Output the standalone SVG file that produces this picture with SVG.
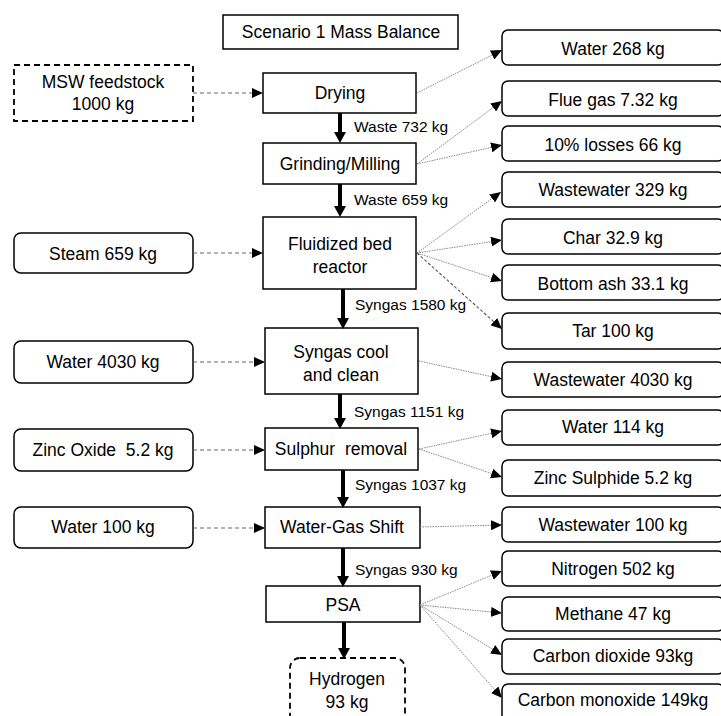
<svg xmlns="http://www.w3.org/2000/svg" width="721" height="716" viewBox="0 0 721 716">
<defs>
<style>
text{font-family:"Liberation Sans",Arial,sans-serif;fill:#000;}
.t{font-size:17.5px;text-anchor:middle;white-space:pre;}
.l{font-size:15.5px;}
.box{fill:#fff;stroke:#000;stroke-width:1.5;}
.rbox{fill:#fff;stroke:#000;stroke-width:1.5;}
.dbox{fill:#fff;stroke:#000;stroke-width:1.8;stroke-dasharray:6,4;}
.thick{stroke:#000;stroke-width:4;fill:none;}
.dash{stroke:#666;stroke-width:1.2;stroke-dasharray:4,3;fill:none;}
.dot{stroke:#888;stroke-width:1;stroke-dasharray:1.5,1;fill:none;}
.tdash{stroke:#555;stroke-width:1.1;stroke-dasharray:3,2;fill:none;}
</style>
<marker id="big" markerUnits="userSpaceOnUse" markerWidth="12" markerHeight="12" refX="0" refY="6" orient="auto">
<path d="M0,0 L11,6 L0,12 z" fill="#000"/>
</marker>
<marker id="sm" markerUnits="userSpaceOnUse" markerWidth="11" markerHeight="10" refX="11" refY="5" orient="auto">
<path d="M0,0 L11,5 L0,10 z" fill="#000"/>
</marker>
</defs>

<g id="title"><rect class="box" x="223" y="15" width="235" height="34"/><text class="t" x="341" y="38">Scenario 1 Mass Balance</text></g>

<g id="msw"><rect class="dbox" x="14" y="65" width="179" height="56"/><text class="t" x="103" y="88">MSW feedstock</text><text class="t" x="103" y="110">1000 kg</text></g>
<g id="steam"><rect class="rbox" x="14" y="233" width="179" height="40" rx="7"/><text class="t" x="103" y="260">Steam 659 kg</text></g>
<g id="water4030"><rect class="rbox" x="14" y="341" width="179" height="42" rx="7"/><text class="t" x="103" y="368">Water 4030 kg</text></g>
<g id="zno"><rect class="rbox" x="14" y="429" width="179" height="42" rx="7"/><text class="t" x="103" y="456">Zinc Oxide  5.2 kg</text></g>
<g id="water100"><rect class="rbox" x="14" y="507" width="179" height="41" rx="7"/><text class="t" x="103" y="533">Water 100 kg</text></g>

<g id="drying"><rect class="box" x="263" y="73" width="153" height="40"/><text class="t" x="340" y="99">Drying</text></g>
<g id="grinding"><rect class="box" x="263" y="143" width="153" height="41"/><text class="t" x="340" y="170">Grinding/Milling</text></g>
<g id="fbr"><rect class="box" x="263" y="217" width="153" height="72"/><text class="t" x="340" y="250">Fluidized bed</text><text class="t" x="340" y="273">reactor</text></g>
<g id="cool"><rect class="box" x="265" y="328" width="153" height="66"/><text class="t" x="341" y="358">Syngas cool</text><text class="t" x="341" y="381">and clean</text></g>
<g id="sulphur"><rect class="box" x="265" y="428" width="153" height="42"/><text class="t" x="341" y="455">Sulphur  removal</text></g>
<g id="wgs"><rect class="box" x="265" y="507" width="155" height="41"/><text class="t" x="342" y="533">Water-Gas Shift</text></g>
<g id="psa"><rect class="box" x="266" y="586" width="154" height="36"/><text class="t" x="343" y="611">PSA</text></g>
<g id="hydrogen"><rect class="dbox" x="290" y="658" width="115" height="72" rx="10"/><text class="t" x="347" y="685">Hydrogen</text><text class="t" x="347" y="708">93 kg</text></g>

<g id="o-water268"><rect class="rbox" x="502" y="30" width="222" height="35" rx="6"/><text class="t" x="613" y="55">Water 268 kg</text></g>
<g id="o-flue"><rect class="rbox" x="502" y="81" width="222" height="35" rx="6"/><text class="t" x="613" y="106">Flue gas 7.32 kg</text></g>
<g id="o-losses"><rect class="rbox" x="502" y="126" width="222" height="35" rx="6"/><text class="t" x="613" y="151">10% losses 66 kg</text></g>
<g id="o-ww329"><rect class="rbox" x="502" y="172" width="222" height="35" rx="6"/><text class="t" x="613" y="196">Wastewater 329 kg</text></g>
<g id="o-char"><rect class="rbox" x="502" y="219" width="222" height="35" rx="6"/><text class="t" x="613" y="244">Char 32.9 kg</text></g>
<g id="o-ash"><rect class="rbox" x="502" y="265" width="222" height="35" rx="6"/><text class="t" x="613" y="290">Bottom ash 33.1 kg</text></g>
<g id="o-tar"><rect class="rbox" x="502" y="313" width="222" height="36" rx="6"/><text class="t" x="613" y="337">Tar 100 kg</text></g>
<g id="o-ww4030"><rect class="rbox" x="502" y="362" width="222" height="35" rx="6"/><text class="t" x="613" y="386">Wastewater 4030 kg</text></g>
<g id="o-water114"><rect class="rbox" x="502" y="410" width="222" height="35" rx="6"/><text class="t" x="613" y="433">Water 114 kg</text></g>
<g id="o-zns"><rect class="rbox" x="502" y="460" width="222" height="36" rx="6"/><text class="t" x="613" y="484">Zinc Sulphide 5.2 kg</text></g>
<g id="o-ww100"><rect class="rbox" x="502" y="507" width="222" height="35" rx="6"/><text class="t" x="613" y="531">Wastewater 100 kg</text></g>
<g id="o-n2"><rect class="rbox" x="502" y="551" width="222" height="35" rx="6"/><text class="t" x="613" y="575">Nitrogen 502 kg</text></g>
<g id="o-ch4"><rect class="rbox" x="502" y="597" width="222" height="34" rx="6"/><text class="t" x="613" y="620">Methane 47 kg</text></g>
<g id="o-co2"><rect class="rbox" x="502" y="639" width="222" height="35" rx="6"/><text class="t" x="613" y="662">Carbon dioxide 93kg</text></g>
<g id="o-co"><rect class="rbox" x="502" y="684" width="222" height="40" rx="6"/><text class="t" x="613" y="706">Carbon monoxide 149kg</text></g>

<g id="connectors">
<line class="thick" x1="340" y1="113" x2="340" y2="132" marker-end="url(#big)"/>
<line class="thick" x1="340" y1="184" x2="340" y2="206" marker-end="url(#big)"/>
<line class="thick" x1="343" y1="289" x2="343" y2="318" marker-end="url(#big)"/>
<line class="thick" x1="340" y1="394" x2="340" y2="418" marker-end="url(#big)"/>
<line class="thick" x1="343" y1="470" x2="343" y2="497" marker-end="url(#big)"/>
<line class="thick" x1="343" y1="548" x2="343" y2="576" marker-end="url(#big)"/>
<line class="thick" x1="344" y1="622" x2="344" y2="648" marker-end="url(#big)"/>

<line class="dash" x1="193" y1="93" x2="263" y2="93" marker-end="url(#sm)"/>
<line class="dash" x1="193" y1="253" x2="263" y2="253" marker-end="url(#sm)"/>
<line class="dash" x1="193" y1="362" x2="265" y2="362" marker-end="url(#sm)"/>
<line class="dash" x1="193" y1="450" x2="265" y2="450" marker-end="url(#sm)"/>
<line class="dash" x1="193" y1="528" x2="265" y2="528" marker-end="url(#sm)"/>

<line class="dot" x1="417" y1="93" x2="502" y2="50" marker-end="url(#sm)"/>
<line class="dot" x1="417" y1="164" x2="502" y2="101" marker-end="url(#sm)"/>
<line class="dot" x1="417" y1="164" x2="502" y2="145" marker-end="url(#sm)"/>
<line class="dot" x1="417" y1="253" x2="501" y2="192" marker-end="url(#sm)"/>
<line class="dot" x1="417" y1="253" x2="502" y2="240" marker-end="url(#sm)"/>
<line class="dot" x1="417" y1="253" x2="502" y2="281" marker-end="url(#sm)"/>
<line class="tdash" x1="417" y1="253" x2="502" y2="329" marker-end="url(#sm)"/>
<line class="dot" x1="419" y1="361" x2="502" y2="379" marker-end="url(#sm)"/>
<line class="dot" x1="419" y1="449" x2="502" y2="431" marker-end="url(#sm)"/>
<line class="dot" x1="419" y1="449" x2="502" y2="477" marker-end="url(#sm)"/>
<line class="dot" x1="420" y1="527" x2="502" y2="525" marker-end="url(#sm)"/>
<line class="dot" x1="420" y1="605" x2="502" y2="571" marker-end="url(#sm)"/>
<line class="dot" x1="420" y1="605" x2="502" y2="613" marker-end="url(#sm)"/>
<line class="dot" x1="420" y1="605" x2="502" y2="655" marker-end="url(#sm)"/>
<line class="dot" x1="420" y1="605" x2="502" y2="698" marker-end="url(#sm)"/>
</g>

<g id="labels">
<text class="l" x="354" y="132">Waste 732 kg</text>
<text class="l" x="354" y="205">Waste 659 kg</text>
<text class="l" x="355" y="310">Syngas 1580 kg</text>
<text class="l" x="354" y="417">Syngas 1151 kg</text>
<text class="l" x="355" y="490">Syngas 1037 kg</text>
<text class="l" x="355" y="575">Syngas 930 kg</text>
</g>
</svg>
